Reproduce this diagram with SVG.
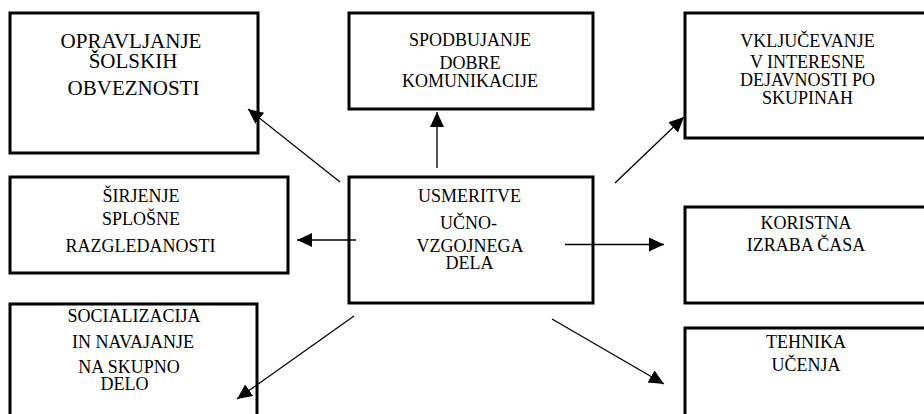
<svg xmlns="http://www.w3.org/2000/svg" width="924" height="414" viewBox="0 0 924 414">
<defs>
<style>
.box{fill:#fff;stroke:#000;stroke-width:3}
.t{font-family:"Liberation Serif","Times New Roman",serif;font-size:18px;fill:#000;text-anchor:middle}
.big{font-size:21px}
.c{stroke:#000;stroke-width:1.3;fill:none;marker-end:url(#ah)}
</style>
<marker id="ah" markerUnits="userSpaceOnUse" markerWidth="16" markerHeight="15" refX="15" refY="7" orient="auto">
<path d="M0,0 L15,7 L0,14 z" fill="#000"/>
</marker>
</defs>
<rect width="924" height="414" fill="#fff"/>
<g id="n-opravljanje">
<rect class="box" x="10" y="13" width="248" height="140"/>
<text class="t big" x="131" y="48">OPRAVLJANJE</text>
<text class="t big" x="133" y="68">ŠOLSKIH</text>
<text class="t big" x="133.5" y="95">OBVEZNOSTI</text>
</g>
<g id="n-spodbujanje">
<rect class="box" x="349" y="13" width="244" height="96"/>
<text class="t" x="470" y="46">SPODBUJANJE</text>
<text class="t" x="470" y="69">DOBRE</text>
<text class="t" x="470" y="87">KOMUNIKACIJE</text>
</g>
<g id="n-vkljucevanje">
<rect class="box" x="685" y="13" width="245" height="125"/>
<text class="t" x="807.5" y="47">VKLJUČEVANJE</text>
<text class="t" x="807.5" y="68">V INTERESNE</text>
<text class="t" x="807.5" y="86">DEJAVNOSTI PO</text>
<text class="t" x="807.5" y="104">SKUPINAH</text>
</g>
<g id="n-sirjenje">
<rect class="box" x="10" y="177" width="278" height="96"/>
<text class="t" x="141" y="202">ŠIRJENJE</text>
<text class="t" x="141" y="225">SPLOŠNE</text>
<text class="t" x="140.5" y="252">RAZGLEDANOSTI</text>
</g>
<g id="n-usmeritve">
<rect class="box" x="349" y="177" width="244" height="126"/>
<text class="t" x="469.5" y="202">USMERITVE</text>
<text class="t" x="468.5" y="229">UČNO-</text>
<text class="t" x="470" y="252">VZGOJNEGA</text>
<text class="t" x="469.5" y="269">DELA</text>
</g>
<g id="n-koristna">
<rect class="box" x="685" y="207" width="245" height="96"/>
<text class="t" x="806" y="229">KORISTNA</text>
<text class="t" x="806" y="251">IZRABA ČASA</text>
</g>
<g id="n-socializacija">
<rect class="box" x="10" y="304" width="247" height="120"/>
<text class="t" x="134" y="322">SOCIALIZACIJA</text>
<text class="t" x="133" y="348">IN NAVAJANJE</text>
<text class="t" x="129" y="373">NA SKUPNO</text>
<text class="t" x="124.5" y="390">DELO</text>
</g>
<g id="n-tehnika">
<rect class="box" x="685" y="328" width="245" height="100"/>
<text class="t" x="806" y="348">TEHNIKA</text>
<text class="t" x="806" y="371">UČENJA</text>
</g>
<g id="connectors">
<line class="c" x1="437" y1="168" x2="437" y2="112"/>
<line class="c" x1="340" y1="182" x2="248" y2="109"/>
<line class="c" x1="615" y1="183" x2="684" y2="117"/>
<line class="c" x1="356" y1="240" x2="297" y2="240"/>
<line class="c" x1="565" y1="244.5" x2="664" y2="244.5"/>
<line class="c" x1="354" y1="316" x2="237" y2="399"/>
<line class="c" x1="552" y1="319" x2="664" y2="384"/>
</g>
</svg>
